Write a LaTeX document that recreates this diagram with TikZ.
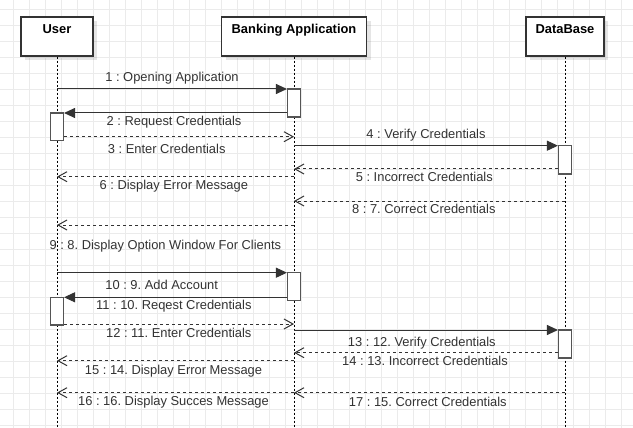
\documentclass[tikz,border=0pt]{standalone}
\usepackage{fontspec}
\setmainfont{Liberation Sans}
\usetikzlibrary{arrows.meta,shadows}
\definecolor{gridc}{HTML}{EBEBEB}
\definecolor{ink}{HTML}{333333}
\definecolor{barc}{HTML}{555555}
\begin{document}
\frenchspacing
\begin{tikzpicture}[x=1pt,y=-1pt,
  hdr/.style={draw=ink, line width=1.2pt, fill=white, inner sep=0pt,
    minimum height=39pt,
    drop shadow={shadow xshift=4pt,shadow yshift=-4pt,opacity=0.1,fill=black}},
  hdrtxt/.style={font=\fontsize{12.9}{15}\selectfont\bfseries, text=black, inner sep=0pt, anchor=north},
  lifeline/.style={draw=black, line width=0.9pt, dash pattern=on 2pt off 2pt},
  actbar/.style={draw=barc, line width=1.1pt, fill=white, minimum width=13pt, inner sep=0pt},
  callmsg/.style={draw=ink, line width=1pt, -{Triangle[length=11pt,width=10pt]}},
  retmsg/.style={draw=ink, line width=1pt, dash pattern=on 3pt off 3pt, -{Straight Barb[length=9pt,width=10pt,line width=1pt]}},
  lbl/.style={font=\fontsize{12.9}{15}\selectfont, text=ink, inner sep=0pt, text height=9.3pt, text depth=2.7pt}
]
\useasboundingbox (0,0) rectangle (633,428);
\fill[white] (0,0) rectangle (633,428);
% grid
\foreach \i in {0,...,38} \draw[gridc, line width=1pt] (13.3+16*\i,0) -- (13.3+16*\i,428);
\foreach \j in {0,...,26} \draw[gridc, line width=1pt] (0,9.3+16*\j) -- (633,9.3+16*\j);

% header boxes
\node[hdr, minimum width=72pt] (user) at (57,36.5) {};
\node[hdr, minimum width=145pt] (bank) at (294,36.5) {};
\node[hdr, minimum width=78pt] (db) at (565,36.5) {};

% lifeline ends
\coordinate (uend) at (57,428);
\coordinate (bend) at (294,428);
\coordinate (dend) at (565,428);
\draw[lifeline] (user.south) -- (uend);
\draw[lifeline] (bank.south) -- (bend);
\draw[lifeline] (db.south) -- (dend);

% header texts
\node[hdrtxt] at ([yshift=-7.7pt]user.north) {User};
\node[hdrtxt] at ([yshift=-7.7pt]bank.north) {Banking Application};
\node[hdrtxt] at ([yshift=-7.7pt]db.north) {DataBase};

% activation bars
\node[actbar, minimum height=28pt] (bA1) at (294,103) {};
\node[actbar, minimum height=27.7pt] (uA1) at (57,126.85) {};
\node[actbar, minimum height=28.3pt] (dA1) at (565,159.85) {};
\node[actbar, minimum height=28pt] (bA2) at (294,286.7) {};
\node[actbar, minimum height=27.7pt] (uA2) at (57,311.15) {};
\node[actbar, minimum height=28pt] (dA2) at (565,344) {};

% message heights
\coordinate (y1) at (0,89);
\coordinate (y2) at (0,113);
\coordinate (y3) at (0,136.7);
\coordinate (y4) at (0,145.7);
\coordinate (y5) at (0,169);
\coordinate (y6) at (0,176.7);
\coordinate (y7) at (0,201);
\coordinate (y8) at (0,225);
\coordinate (y9) at (0,272.7);
\coordinate (y10) at (0,297.3);
\coordinate (y11) at (0,324);
\coordinate (y12) at (0,330);
\coordinate (y13) at (0,352.7);
\coordinate (y14) at (0,360.7);
\coordinate (y15) at (0,392.7);

% messages
\draw[callmsg] (user |- y1) -- (bA1.west |- y1);
\draw[callmsg] (bA1.west |- y2) -- (uA1.east |- y2);
\draw[retmsg] (uA1.east |- y3) -- (bank |- y3);
\draw[callmsg] (bank |- y4) -- (dA1.west |- y4);
\draw[retmsg] (dA1.west |- y5) -- (bank |- y5);
\draw[retmsg] (bank |- y6) -- (user |- y6);
\draw[retmsg] (db |- y7) -- (bank |- y7);
\draw[retmsg] (bank |- y8) -- (user |- y8);
\draw[callmsg] (user |- y9) -- (bA2.west |- y9);
\draw[callmsg] (bA2.west |- y10) -- (uA2.east |- y10);
\draw[retmsg] (uA2.east |- y11) -- (bank |- y11);
\draw[callmsg] (bank |- y12) -- (dA2.west |- y12);
\draw[retmsg] (dA2.west |- y13) -- (bank |- y13);
\draw[retmsg] (bank |- y14) -- (user |- y14);
\draw[retmsg] (db |- y15) -- (bank |- y15);
\draw[retmsg] (bank |- y15) -- (user |- y15);

% labels
\node[lbl] at (172,78.5) {1 : Opening Application};
\node[lbl] at (174,122.5) {2 : Request Credentials};
\node[lbl] at (166.7,150.5) {3 : Enter Credentials};
\node[lbl] at (426,135.5) {4 : Verify Credentials};
\node[lbl] at (424.3,178.5) {5 : Incorrect Credentials};
\node[lbl] at (173.8,186.5) {6 : Display Error Message};
\node[lbl] at (423.8,210.5) {8 : 7. Correct Credentials};
\node[lbl] at (165.3,246.2) {9 : 8. Display Option Window For Clients};
\node[lbl] at (161.7,286.5) {10 : 9. Add Account};
\node[lbl] at (173.8,306.5) {11 : 10. Reqest Credentials};
\node[lbl] at (178.8,333.8) {12 : 11. Enter Credentials};
\node[lbl] at (421.8,342.8) {13 : 12. Verify Credentials};
\node[lbl] at (425,362.5) {14 : 13. Incorrect Credentials};
\node[lbl] at (173.5,371.2) {15 : 14. Display Error Message};
\node[lbl] at (427.8,402.8) {17 : 15. Correct Credentials};
\node[lbl] at (173.5,402.5) {16 : 16. Display Succes Message};
\end{tikzpicture}
\end{document}
